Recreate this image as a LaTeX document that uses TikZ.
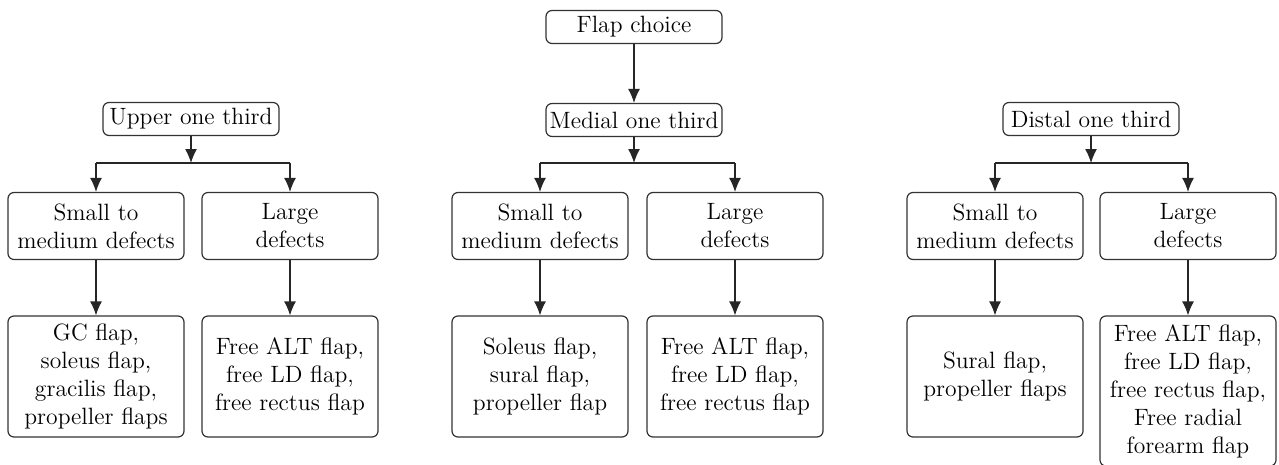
\documentclass[tikz,border=0pt]{standalone}
\usetikzlibrary{arrows.meta}
\tikzset{
  box/.style={draw=black!80, line width=0.6pt, rounded corners=3pt, align=center,
              inner sep=0pt, font=\fontsize{11.8}{14}\selectfont},
  head/.style={box, minimum width=88pt, minimum height=16.5pt},
  sizebox/.style={box, minimum width=88pt, minimum height=33.5pt},
  flapbox/.style={box, minimum width=88pt, minimum height=60.5pt},
  arr/.style={draw=black!85, line width=0.6pt, -{Latex[length=7pt,width=6pt]}},
  bar/.style={draw=black!85, line width=0.6pt},
}
\begin{document}
\begin{tikzpicture}[x=0.5pt, y=-0.5pt]
\useasboundingbox (0,0) rectangle (1279,465);
\clip (0,0) rectangle (1279,465);

% level 1
\node[head] (flap)   at (634,27)  {Flap choice};
\node[head] (upper)  at (191,119) {Upper one third};
\node[head] (medial) at (634,120) {Medial one third};
\node[head] (distal) at (1091,119) {Distal one third};

% level 2: defect size
\node[sizebox] (us) at (96,226)   {Small to\\medium defects};
\node[sizebox] (ul) at (290,226)  {Large\\defects};
\node[sizebox] (ms) at (540,226)  {Small to\\medium defects};
\node[sizebox] (ml) at (735,226)  {Large\\defects};
\node[sizebox] (ds) at (995,226)  {Small to\\medium defects};
\node[sizebox] (dl) at (1188,226) {Large\\defects};

% level 3: flap options
\node[flapbox] (uf1) at (96,376.5)  {GC flap,\\soleus flap,\\gracilis flap,\\propeller flaps};
\node[flapbox] (uf2) at (290,376.5) {Free ALT flap,\\free LD flap,\\free rectus flap};
\node[flapbox] (mf1) at (540,376.5) {Soleus flap,\\sural flap,\\propeller flap};
\node[flapbox] (mf2) at (735,376.5) {Free ALT flap,\\free LD flap,\\free rectus flap};
\node[flapbox] (df1) at (995,376.5) {Sural flap,\\propeller flaps};
\node[box, minimum width=88pt, minimum height=75pt] (df2) at (1188,391)
  {Free ALT flap,\\free LD flap,\\free rectus flap,\\Free radial\\forearm flap};

% branch points
\coordinate (ubar) at (191,163);
\coordinate (mbar) at (634,163);
\coordinate (dbar) at (1091,163);

% connectors
\draw[arr] (flap) -- (medial);

\draw[arr] (upper) -- (ubar);
\draw[bar] (us |- ubar) -- (ul |- ubar);
\draw[arr] (us |- ubar) -- (us);
\draw[arr] (ul |- ubar) -- (ul);

\draw[arr] (medial) -- (mbar);
\draw[bar] (ms |- mbar) -- (ml |- mbar);
\draw[arr] (ms |- mbar) -- (ms);
\draw[arr] (ml |- mbar) -- (ml);

\draw[arr] (distal) -- (dbar);
\draw[bar] (ds |- dbar) -- (dl |- dbar);
\draw[arr] (ds |- dbar) -- (ds);
\draw[arr] (dl |- dbar) -- (dl);

\draw[arr] (us) -- (uf1);
\draw[arr] (ul) -- (uf2);
\draw[arr] (ms) -- (mf1);
\draw[arr] (ml) -- (mf2);
\draw[arr] (ds) -- (df1);
\draw[arr] (dl) -- (df2);
\end{tikzpicture}
\end{document}
